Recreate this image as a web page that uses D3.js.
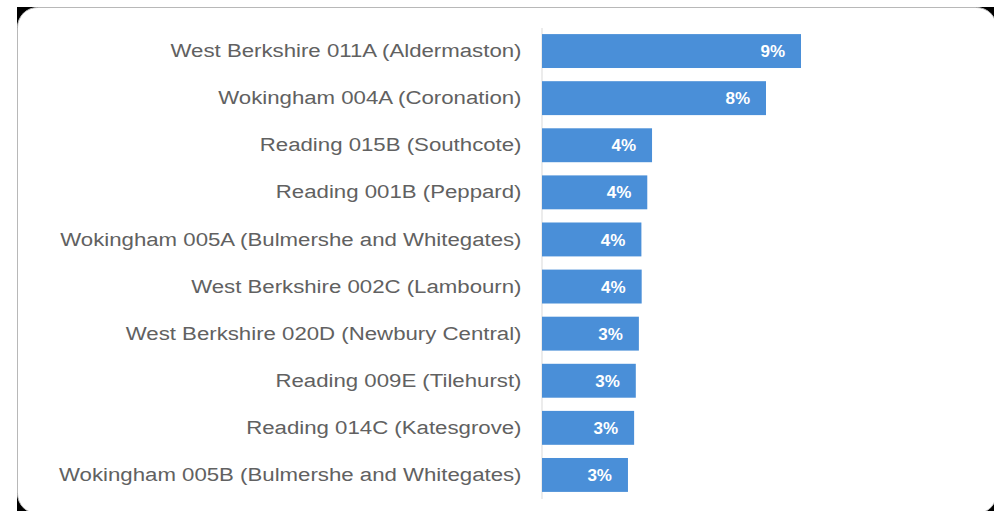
<!DOCTYPE html>
<html>
<head>
<meta charset="utf-8">
<script src="https://cdn.jsdelivr.net/npm/d3@7"></script>
<style>
  html, body { margin: 0; padding: 0; background: #ffffff; }
  svg { display: block; }
</style>
</head>
<body>
<svg id="chart" width="994" height="511"></svg>
<script>
// Small areas (LSOAs) and their share, in percent
const categories = [
  "West Berkshire 011A (Aldermaston)",
  "Wokingham 004A (Coronation)",
  "Reading 015B (Southcote)",
  "Reading 001B (Peppard)",
  "Wokingham 005A (Bulmershe and Whitegates)",
  "West Berkshire 002C (Lambourn)",
  "West Berkshire 020D (Newbury Central)",
  "Reading 009E (Tilehurst)",
  "Reading 014C (Katesgrove)",
  "Wokingham 005B (Bulmershe and Whitegates)"
];
const shares = [9.25, 8.0, 3.93, 3.76, 3.55, 3.56, 3.46, 3.35, 3.29, 3.07];

const svg = d3.select("#chart");
const W = 994, H = 511;

// Panel: dark backing with a white rounded card on top
svg.append("rect")
  .attr("x", 17).attr("y", 7)
  .attr("width", W - 17).attr("height", H - 7)
  .attr("fill", "#000");
svg.append("rect")
  .attr("x", 17.5).attr("y", 7.5)
  .attr("width", 979).attr("height", 506)
  .attr("rx", 20).attr("ry", 20)
  .attr("fill", "#fff")
  .attr("stroke", "#b8b8b8")
  .attr("stroke-width", 1);

const x = d3.scaleLinear().domain([0, 10]).range([542, 822]);
const y = d3.scaleBand()
  .domain(categories)
  .range([27.5, 498.5])
  .paddingInner(0.28)
  .paddingOuter(0.14);

// Category axis on the left; labels are set in a slightly widened face
const labelStretch = 1.17;
const yAxis = d3.axisLeft(y).tickSize(0).tickPadding(20);
const gy = svg.append("g")
  .attr("transform", `translate(${x(0) - 0.5},0)`)
  .call(yAxis);
gy.select(".domain")
  .attr("stroke", "#d9d9d9")
  .attr("stroke-width", 1);
gy.selectAll(".tick text")
  .attr("x", 0)
  .attr("transform", `translate(-20,0) scale(${labelStretch},1)`)
  .attr("fill", "#616161")
  .style("font-family", "'Liberation Sans', Arial, sans-serif")
  .style("font-size", "19px");

// Bars
svg.append("g").selectAll("rect")
  .data(shares)
  .join("rect")
  .attr("x", x(0))
  .attr("y", (d, i) => y(categories[i]))
  .attr("width", d => x(d) - x(0))
  .attr("height", y.bandwidth())
  .attr("fill", "#4a8fd8");

// Value labels inside the bar end
svg.append("g").selectAll("text")
  .data(shares)
  .join("text")
  .attr("x", d => x(d) - 16)
  .attr("y", (d, i) => y(categories[i]) + y.bandwidth() / 2)
  .attr("dy", "0.36em")
  .attr("text-anchor", "end")
  .attr("fill", "#ffffff")
  .style("font-family", "'Liberation Sans', Arial, sans-serif")
  .style("font-weight", "bold")
  .style("font-size", "17px")
  .text(d => Math.round(d) + "%");
</script>
</body>
</html>
